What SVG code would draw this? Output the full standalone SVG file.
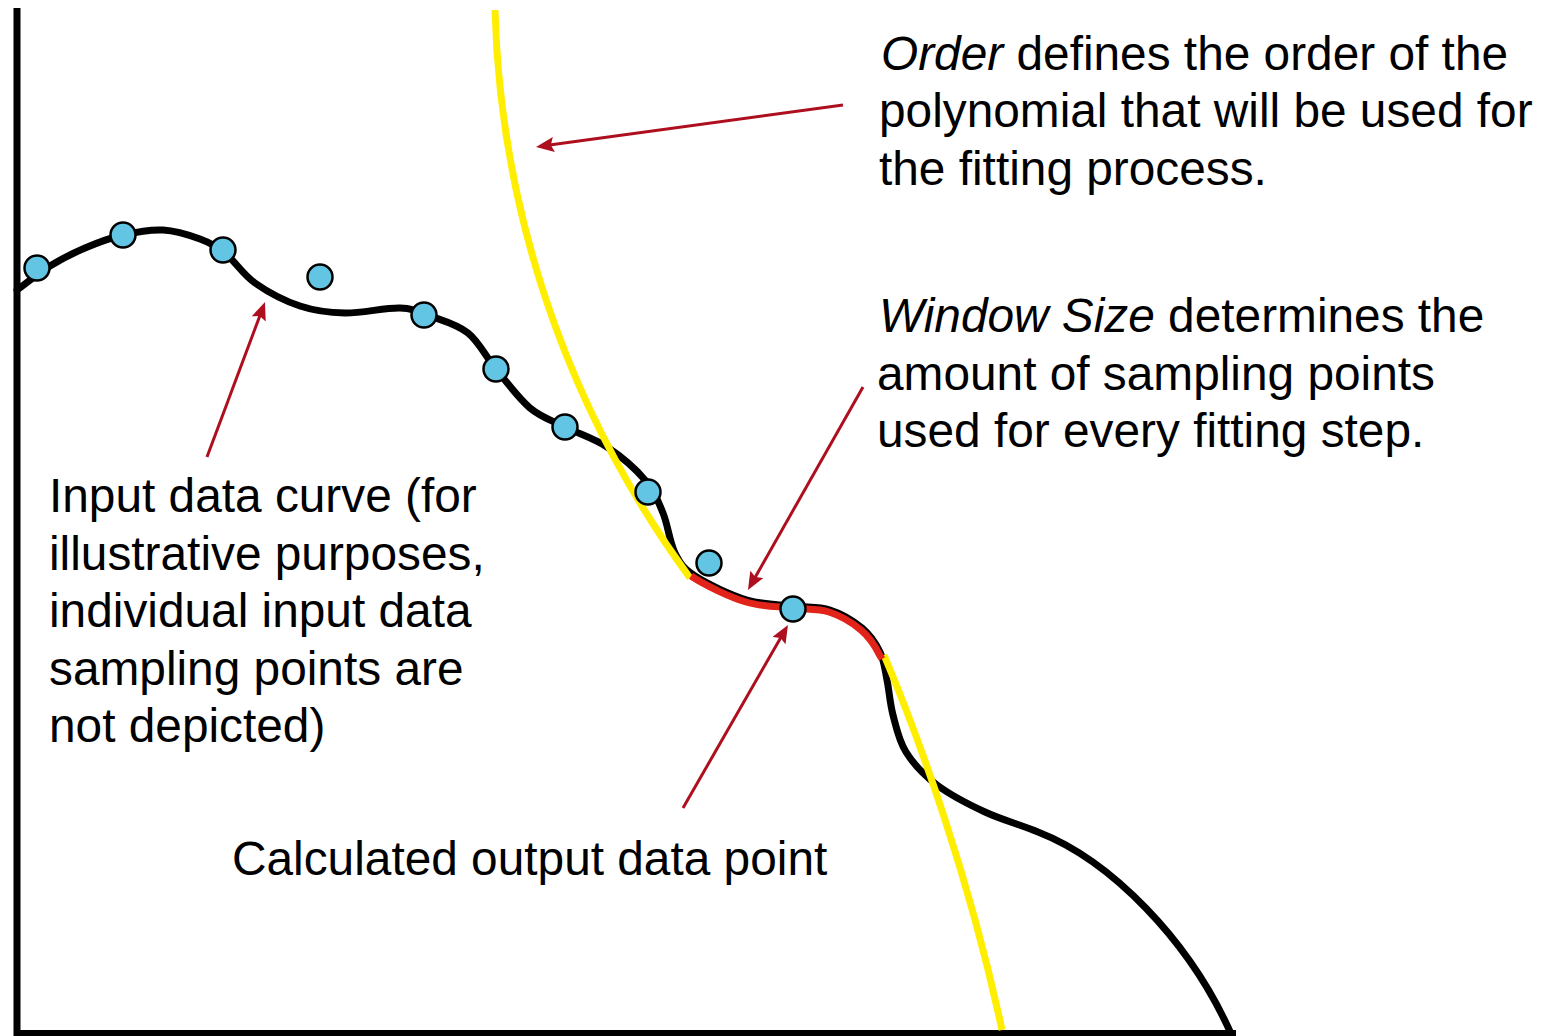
<svg xmlns="http://www.w3.org/2000/svg" width="1559" height="1036" viewBox="0 0 1559 1036">
<style>
.axis{stroke:#000;stroke-width:7;fill:none}
.curve{stroke:#000;stroke-width:7;fill:none;stroke-linecap:round}
.fit{stroke:#FFEE00;stroke-width:7;fill:none}
.win{stroke:#E2231A;stroke-width:7;fill:none}
.pt{fill:#62C5E3;stroke:#000;stroke-width:2.5}
.arr{stroke:#AE0F1E;stroke-width:3;fill:none;marker-end:url(#ah)}
.lbl{font-family:"Liberation Sans",Arial,sans-serif;font-size:47.8px;fill:#000}
.it{font-style:italic}
</style>
<defs>
<marker id="ah" markerUnits="userSpaceOnUse" markerWidth="20" markerHeight="16" refX="8" refY="7.5" orient="auto">
<path d="M0,0 L18,7.5 L0,15 L3,7.5 z" fill="#AE0F1E"/>
</marker>
</defs>
<rect width="1559" height="1036" fill="#fff"/>
<g id="axes">
<path class="axis" d="M17,8 V1033.5 H1236"/>
</g>
<g id="input-curve">
<path class="curve" d="M17,290 C22.5,286 38.7,273 50,266 C61.3,259 72.8,253.2 85,248 C97.2,242.8 110,238 123,235 C136,232 150.2,229.3 163,230 C175.8,230.7 189.7,235.2 200,239 C210.3,242.8 215.8,245.7 225,253 C234.2,260.3 242.5,274.2 255,283 C267.5,291.8 285,301 300,306 C315,311 328.3,312.7 345,313 C361.7,313.3 385.8,307.5 400,308 C414.2,308.5 418.7,311.8 430,316 C441.3,320.2 457,324.2 468,333 C479,341.8 485.7,356.5 496,369 C506.3,381.5 518.5,398.3 530,408 C541.5,417.7 552.2,420.5 565,427 C577.8,433.5 593.7,438.2 607,447 C620.3,455.8 635.7,469 645,480 C654.3,491 658,500.8 663,513 C668,525.2 669.7,542.5 675,553 C680.3,563.5 683,568.2 695,576 C707,583.8 730.7,595 747,600 C763.3,605 779.2,604.3 793,606 C806.8,607.7 818.5,606.3 830,610 C841.5,613.7 853.7,621 862,628 C870.3,635 875.8,643.3 880,652 C884.2,660.7 884.8,669.5 887,680 C889.2,690.5 889.8,703 893,715 C896.2,727 898.7,740.3 906,752 C913.3,763.7 923.8,775 937,785 C950.2,795 968.2,804.2 985,812 C1001.8,819.8 1021.2,825 1038,832 C1110,860 1190,940 1232,1036"/>
</g>
<g id="fit-curve">
<path class="fit" d="M495,10 C500,200 560,400 690,578"/>
<path class="fit" d="M884,655 C920,740 970,880 1002,1030"/>
</g>
<g id="window-segment">
<path class="win" transform="translate(-1,2)" d="M692,574 C707,583.8 730.7,595 747,600 C763.3,605 779.2,604.3 793,606 C806.8,607.7 818.5,606.3 830,610 C841.5,613.7 853.7,621 862,628 C870.3,635 875.8,643.3 880,652 L883,657"/>
</g>
<g id="points">
<circle class="pt" cx="37" cy="268" r="12.5"/>
<circle class="pt" cx="123" cy="235" r="12.5"/>
<circle class="pt" cx="223" cy="250" r="12.5"/>
<circle class="pt" cx="320" cy="277" r="12.5"/>
<circle class="pt" cx="424" cy="315" r="12.5"/>
<circle class="pt" cx="496" cy="369" r="12.5"/>
<circle class="pt" cx="565" cy="427" r="12.5"/>
<circle class="pt" cx="648" cy="492" r="12.5"/>
<circle class="pt" cx="709" cy="563" r="12.5"/>
<circle id="output-point" class="pt" cx="793" cy="609" r="12.5"/>
</g>
<g id="connectors">
<line class="arr" x1="843" y1="105" x2="545.9" y2="145.6"/>
<line class="arr" x1="207" y1="457" x2="261.5" y2="311.4"/>
<line class="arr" x1="863" y1="387" x2="752.9" y2="581.3"/>
<line class="arr" x1="683" y1="808" x2="783" y2="633.7"/>
</g>
<g id="label-order">
<text class="lbl" x="881" y="70"><tspan class="it">Order</tspan> defines the order of the</text>
<text class="lbl" x="879" y="127">polynomial that will be used for</text>
<text class="lbl" x="879" y="185">the fitting process.</text>
</g>
<g id="label-window">
<text class="lbl" x="879" y="332"><tspan class="it">Window Size</tspan> determines the</text>
<text class="lbl" x="877" y="390">amount of sampling points</text>
<text class="lbl" x="877" y="447">used for every fitting step.</text>
</g>
<g id="label-input">
<text class="lbl" x="49" y="512">Input data curve (for</text>
<text class="lbl" x="49" y="570">illustrative purposes,</text>
<text class="lbl" x="49" y="627">individual input data</text>
<text class="lbl" x="49" y="685">sampling points are</text>
<text class="lbl" x="49" y="742">not depicted)</text>
</g>
<g id="label-output">
<text class="lbl" x="232" y="875">Calculated output data point</text>
</g>
</svg>
